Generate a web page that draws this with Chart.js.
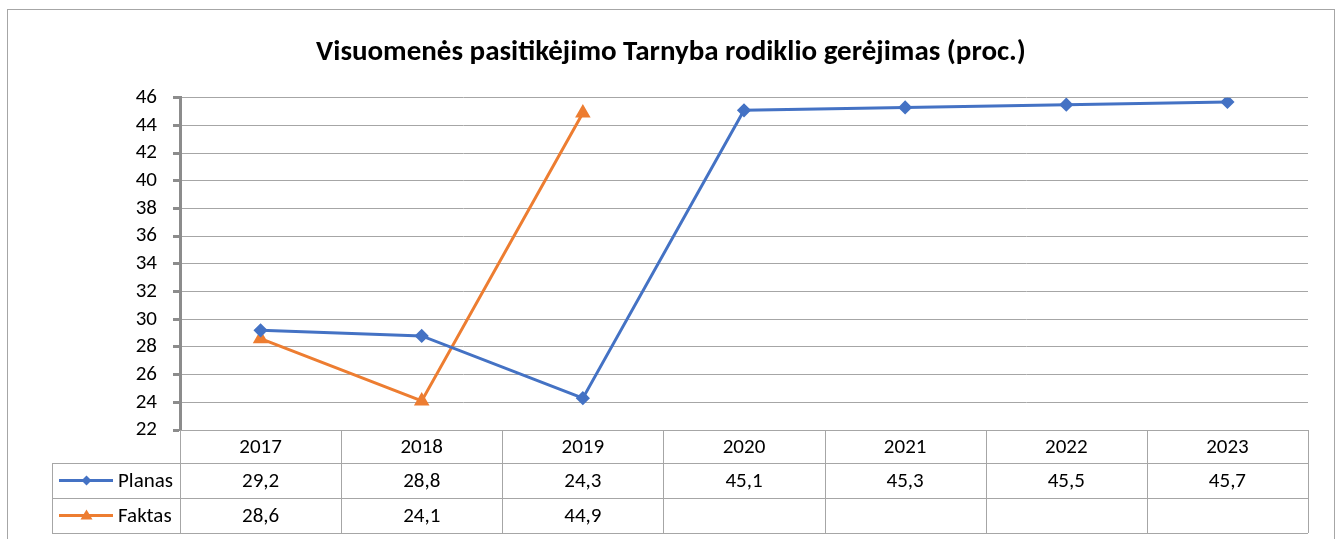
<!DOCTYPE html>
<html>
<head>
<meta charset="utf-8">
<script src="https://cdn.jsdelivr.net/npm/chart.js@4/dist/chart.umd.min.js"></script>
<style>
  html, body { margin: 0; padding: 0; background: #fff; }
</style>
</head>
<body>
<canvas id="grafikas" width="1342" height="539"></canvas>
<script>
// duomenys
const metai = ['2017', '2018', '2019', '2020', '2021', '2022', '2023'];
const planas = [29.2, 28.8, 24.3, 45.1, 45.3, 45.5, 45.7];
const faktas = [28.6, 24.1, 44.9, null, null, null, null];
const yMin = 22;
const yMax = 46;
const yZingsnis = 2;

const SRIFTAS = 'Carlito, Lato, "Open Sans", sans-serif';
const MELYNA = '#4472c4';
const ORANZINE = '#ed7d31';
const PILKA = '#a6a6a6';

function skaicius(v) {
    return v == null ? '' : String(v).replace('.', ',');
}

// rėmelis aplink visą diagramą
const remelis = {
    id: 'remelis',
    beforeDraw(chart) {
        const c = chart.ctx;
        c.save();
        c.strokeStyle = '#a6a6a6';
        c.lineWidth = 1;
        c.strokeRect(7.5, 9.5, 1327, 600);
        c.restore();
    }
};

// duomenų lentelė po ašimi
const lentele = {
    id: 'lentele',
    afterDraw(chart) {
        const c = chart.ctx;
        const a = chart.chartArea;
        const xs = chart.scales.x;
        const plotis = (a.right - a.left) / metai.length;
        const kaire = 52;
        const y0 = Math.round(a.bottom);
        const y1 = y0 + 33;
        const y2 = y1 + 35;
        const y3 = y2 + 35;

        c.save();
        c.strokeStyle = PILKA;
        c.lineWidth = 1;
        c.beginPath();
        // horizontalios
        c.moveTo(a.left, y0 + 0.5); c.lineTo(a.right, y0 + 0.5);
        [y1, y2, y3].forEach(y => { c.moveTo(kaire, y + 0.5); c.lineTo(a.right, y + 0.5); });
        // vertikalios
        c.moveTo(kaire + 0.5, y1); c.lineTo(kaire + 0.5, y3);
        for (let i = 0; i <= metai.length; i++) {
            const x = Math.round(a.left + i * plotis) + 0.5;
            c.moveTo(x, y0); c.lineTo(x, y3);
        }
        c.stroke();

        c.fillStyle = '#000';
        c.font = '21px ' + SRIFTAS;
        c.textAlign = 'center';
        c.textBaseline = 'middle';
        metai.forEach((m, i) => {
            const cx = xs.getPixelForValue(i);
            c.fillText(m, cx, (y0 + y1) / 2 + 1);
            c.fillText(skaicius(planas[i]), cx, (y1 + y2) / 2 + 1);
            c.fillText(skaicius(faktas[i]), cx, (y2 + y3) / 2 + 1);
        });

        // legendos raktai
        const eilutes = [
            { pav: 'Planas', spalva: MELYNA, y: (y1 + y2) / 2, forma: 'rombas' },
            { pav: 'Faktas', spalva: ORANZINE, y: (y2 + y3) / 2, forma: 'trikampis' }
        ];
        eilutes.forEach(e => {
            c.strokeStyle = e.spalva;
            c.fillStyle = e.spalva;
            c.lineWidth = 3;
            c.beginPath();
            c.moveTo(59, e.y); c.lineTo(113, e.y);
            c.stroke();
            const mx = 86.5;
            c.beginPath();
            if (e.forma === 'rombas') {
                c.moveTo(mx, e.y - 5); c.lineTo(mx + 5, e.y); c.lineTo(mx, e.y + 5); c.lineTo(mx - 5, e.y);
            } else {
                c.moveTo(mx, e.y - 6); c.lineTo(mx + 6, e.y + 4); c.lineTo(mx - 6, e.y + 4);
            }
            c.closePath();
            c.fill();
            c.fillStyle = '#000';
            c.textAlign = 'left';
            c.fillText(e.pav, 118, e.y + 1);
        });
        c.restore();
    }
};

const ctx = document.getElementById('grafikas').getContext('2d');
new Chart(ctx, {
    type: 'line',
    data: {
        labels: metai,
        datasets: [{
            label: 'Planas',
            data: planas,
            borderColor: MELYNA,
            backgroundColor: MELYNA,
            borderWidth: 3,
            pointStyle: 'rectRot',
            pointRadius: 5,
            pointHoverRadius: 5,
            fill: false,
            tension: 0
        }, {
            label: 'Faktas',
            data: faktas,
            borderColor: ORANZINE,
            backgroundColor: ORANZINE,
            borderWidth: 3,
            pointStyle: 'triangle',
            pointRadius: 6,
            pointHoverRadius: 6,
            fill: false,
            tension: 0
        }]
    },
    options: {
        responsive: false,
        devicePixelRatio: 1,
        animation: false,
        layout: {
            padding: { left: 34, right: 34, top: 0, bottom: 109 }
        },
        plugins: {
            legend: { display: false },
            tooltip: { enabled: false },
            title: {
                display: true,
                text: 'Visuomenės pasitikėjimo Tarnyba rodiklio gerėjimas (proc.)',
                color: '#000',
                font: { family: SRIFTAS, size: 29, weight: 'bold' },
                padding: { top: 35, bottom: 28 }
            }
        },
        scales: {
            x: {
                display: false,
                offset: true
            },
            y: {
                min: yMin,
                max: yMax,
                ticks: {
                    stepSize: yZingsnis,
                    autoSkip: false,
                    color: '#000',
                    padding: 16,
                    font: { family: SRIFTAS, size: 21 }
                },
                grid: {
                    color: PILKA,
                    lineWidth: 1,
                    tickLength: 7,
                    tickColor: '#8c8c8c',
                    tickWidth: 3
                },
                border: { color: '#8c8c8c', width: 3 },
                afterFit(scale) { scale.width = 146; }
            }
        }
    },
    plugins: [remelis, lentele]
});
</script>
</body>
</html>
